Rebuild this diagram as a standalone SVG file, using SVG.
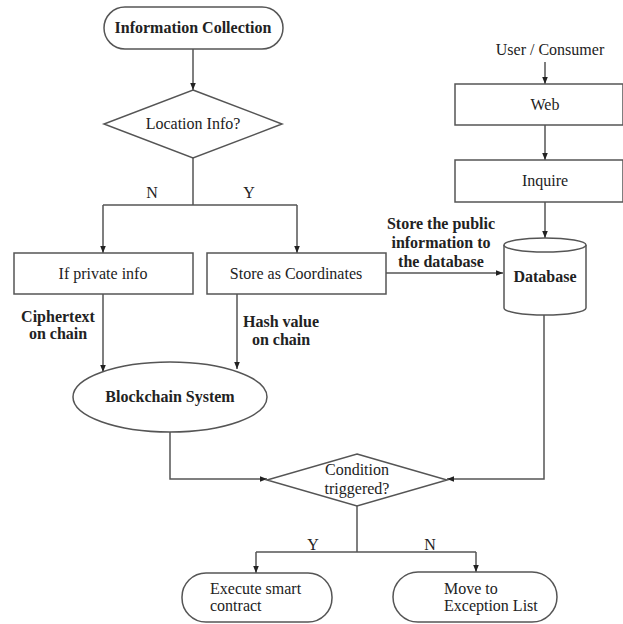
<svg xmlns="http://www.w3.org/2000/svg" width="623" height="624" viewBox="0 0 623 624">
<style>
.s{fill:#fff;stroke:#555;stroke-width:1.5}
.c{fill:none;stroke:#555;stroke-width:1.5}
text{font-family:"Liberation Serif","Times New Roman",serif;font-size:16px;fill:#222}
.m{text-anchor:middle}
.b{font-weight:bold}
</style>
<defs>
<marker id="a" viewBox="0 0 10 10" refX="10" refY="5" markerWidth="7" markerHeight="7" orient="auto" markerUnits="userSpaceOnUse">
<path d="M0,1 L10,5 L0,9 Z" fill="#222"/>
</marker>
</defs>
<rect width="623" height="624" fill="#fff"/>
<g id="connectors">
<path class="c" d="M193,49 V90" marker-end="url(#a)"/>
<path class="c" d="M193,158 V205 M103,205 H297"/>
<path class="c" d="M103,205 V253" marker-end="url(#a)"/>
<path class="c" d="M297,205 V253" marker-end="url(#a)"/>
<path class="c" d="M545,62 V84" marker-end="url(#a)"/>
<path class="c" d="M545,125 V160" marker-end="url(#a)"/>
<path class="c" d="M545,202 V238" marker-end="url(#a)"/>
<path class="c" d="M386,273 L503,273" marker-end="url(#a)"/>
<path class="c" d="M103,294 V372" marker-end="url(#a)"/>
<path class="c" d="M237,294 V369" marker-end="url(#a)"/>
<path class="c" d="M170,432 V479 H267" marker-end="url(#a)"/>
<path class="c" d="M544,315 V479 H447" marker-end="url(#a)"/>
<path class="c" d="M357,506 V552 M256,552 H476"/>
<path class="c" d="M256,552 V573" marker-end="url(#a)"/>
<path class="c" d="M476,552 V572" marker-end="url(#a)"/>
<text x="152" y="198" class="m">N</text>
<text x="249" y="198" class="m">Y</text>
<text x="313" y="550" class="m">Y</text>
<text x="430" y="550" class="m">N</text>
<text x="58" y="322" class="m b">Ciphertext</text>
<text x="58" y="339" class="m b">on chain</text>
<text x="281" y="327" class="m b">Hash value</text>
<text x="281" y="345" class="m b">on chain</text>
<text x="441" y="229" class="m b">Store the public</text>
<text x="441" y="248" class="m b">information to</text>
<text x="441" y="267" class="m b">the database</text>
<text x="550" y="55" class="m">User / Consumer</text>
</g>
<g id="info-collection">
<rect class="s" x="104" y="7" width="179" height="42" rx="21"/>
<text x="193" y="33" class="m b">Information Collection</text>
</g>
<g id="location-info">
<polygon class="s" points="193,90 282,124 193,158 104,124"/>
<text x="193" y="129" class="m">Location Info?</text>
</g>
<g id="private-info">
<rect class="s" x="14" y="253" width="179" height="41"/>
<text x="103" y="279" class="m">If private info</text>
</g>
<g id="store-coordinates">
<rect class="s" x="207" y="253" width="179" height="41"/>
<text x="296" y="279" class="m">Store as Coordinates</text>
</g>
<g id="web">
<rect class="s" x="455" y="84" width="168" height="41"/>
<text x="545" y="110" class="m">Web</text>
</g>
<g id="inquire">
<rect class="s" x="455" y="160" width="168" height="42"/>
<text x="545" y="186" class="m">Inquire</text>
</g>
<g id="database">
<path class="s" d="M504,245 V308 A41,7 0 0 0 586,308 V245"/>
<ellipse class="s" cx="545" cy="245" rx="41" ry="7"/>
<text x="545" y="282" class="m b">Database</text>
</g>
<g id="blockchain">
<ellipse class="s" cx="170" cy="397" rx="97" ry="35"/>
<text x="170" y="402" class="m b">Blockchain System</text>
</g>
<g id="condition">
<polygon class="s" points="357,454 447,480 357,506 267,480"/>
<text x="357" y="475" class="m">Condition</text>
<text x="357" y="494" class="m">triggered?</text>
</g>
<g id="execute">
<rect class="s" x="182" y="573" width="150" height="49" rx="24"/>
<text x="210" y="594">Execute smart</text>
<text x="210" y="611">contract</text>
</g>
<g id="exception">
<rect class="s" x="393" y="572" width="164" height="50" rx="25"/>
<text x="444" y="594">Move to</text>
<text x="444" y="611">Exception List</text>
</g>
</svg>
